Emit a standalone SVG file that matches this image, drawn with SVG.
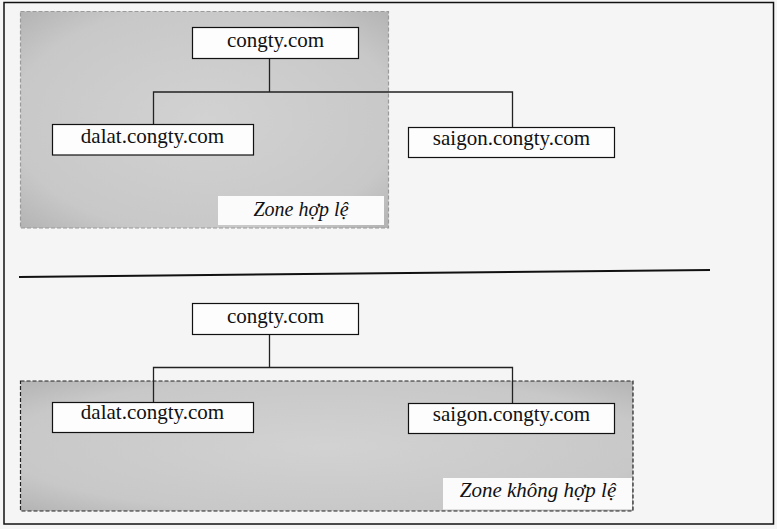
<svg xmlns="http://www.w3.org/2000/svg" width="777" height="529" viewBox="0 0 777 529">
<style>
.node rect{fill:#fdfdfd;stroke:#111;stroke-width:1.2}
.node text{font-size:21px;fill:#111;text-anchor:middle}
.lbl{font-style:italic;font-size:20px;fill:#111;text-anchor:middle}
.conn path{fill:none;stroke:#222;stroke-width:1.3}
</style>
<defs>
<radialGradient id="zg" cx="0.5" cy="0.5" r="0.7">
<stop offset="0" stop-color="#d2d2d2"/>
<stop offset="0.75" stop-color="#c8c8c8"/>
<stop offset="1" stop-color="#b4b4b4"/>
</radialGradient>
</defs>
<rect x="0" y="0" width="777" height="529" fill="#f5f5f5"/>
<rect x="4" y="2.5" width="769.5" height="521.5" fill="none" stroke="#111" stroke-width="1.5"/>

<g font-family="Liberation Serif, serif">
<g id="zone-valid">
<rect x="20.5" y="11.5" width="368" height="216.5" fill="url(#zg)" stroke="#9a9a9a" stroke-width="1.2" stroke-dasharray="4,2"/>
<rect x="218" y="196" width="166" height="29" fill="#fbfbfb"/>
<text class="lbl" x="301" y="215.5">Zone hợp lệ</text>
</g>

<g id="zone-invalid">
<rect x="20.5" y="381" width="612.5" height="130" fill="url(#zg)" stroke="#222" stroke-width="1.2" stroke-dasharray="4,2"/>
<rect x="443" y="478" width="189" height="31.5" fill="#fbfbfb"/>
<text class="lbl" x="538" y="497" style="font-size:21px">Zone không hợp lệ</text>
</g>

<g id="divider">
<path d="M19 277 L710 270" stroke="#111" stroke-width="2" fill="none"/>
</g>

<g class="conn" id="connectors">
<path d="M269.5 58 V92 M153.5 124 V92 H512.5 V127"/>
<path d="M269.5 334 V367.5 M153.5 402 V367.5 H512.5 V403"/>
</g>

<g class="node" id="n-top-congty">
<rect x="192.5" y="27.5" width="166" height="31"/>
<text x="275.5" y="47">congty.com</text>
</g>
<g class="node" id="n-top-dalat">
<rect x="52.5" y="124.5" width="201" height="30.5"/>
<text x="152.5" y="143">dalat.congty.com</text>
</g>
<g class="node" id="n-top-saigon">
<rect x="408.5" y="127.5" width="206" height="30"/>
<text x="511.5" y="144.5">saigon.congty.com</text>
</g>

<g class="node" id="n-bot-congty">
<rect x="192.5" y="303.5" width="166" height="31"/>
<text x="275.5" y="322.5">congty.com</text>
</g>
<g class="node" id="n-bot-dalat">
<rect x="52.5" y="402.5" width="201" height="30"/>
<text x="152.5" y="418.5">dalat.congty.com</text>
</g>
<g class="node" id="n-bot-saigon">
<rect x="408.5" y="403.5" width="206" height="30"/>
<text x="511.5" y="420.5">saigon.congty.com</text>
</g>
</g>
</svg>
